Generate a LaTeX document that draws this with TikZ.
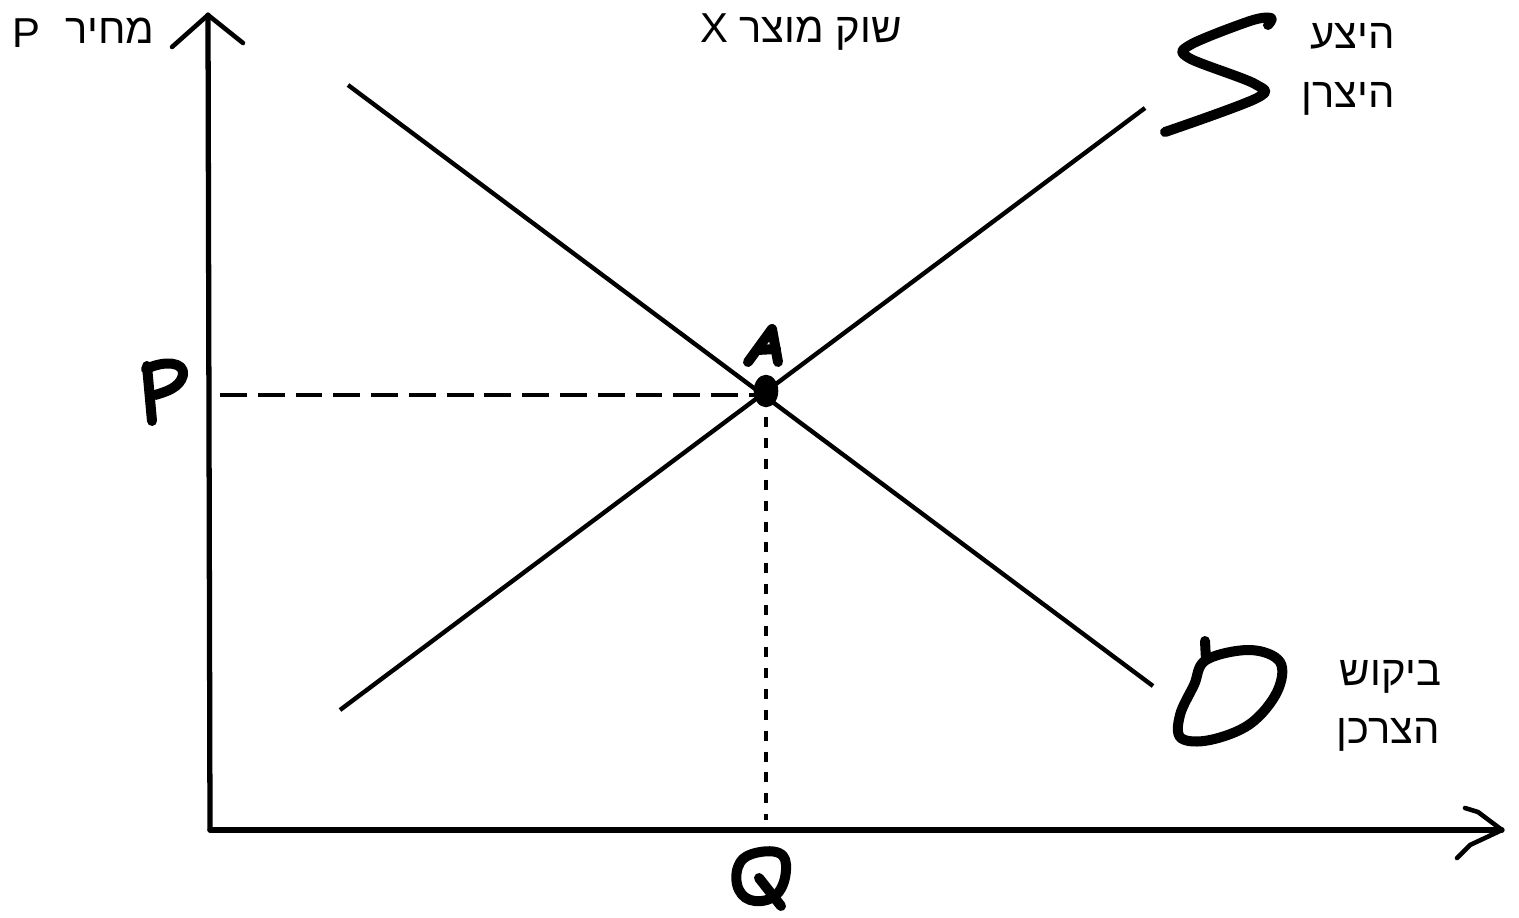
\documentclass[tikz,border=0pt]{standalone}
\usepackage{fontspec}
\usetikzlibrary{shapes.geometric}
\setmainfont{Liberation Sans}
\newfontfamily\heb[Script=Hebrew]{Liberation Sans}
\TeXXeTstate=1
\begin{document}
\begin{tikzpicture}[x=0.02cm,y=-0.02cm,
  axisline/.style={line width=3pt,line cap=round,line join=round},
  curveline/.style={line width=2.5pt},
  hand/.style={line width=5.7pt,line cap=round,line join=round},
  handthin/.style={line width=2.6pt,line cap=round,line join=round},
  lbl/.style={inner sep=0pt,font=\heb\fontsize{23.8}{28}\selectfont},
  guide/.style={line width=2.2pt}]
\useasboundingbox (0,0) rectangle (1519,917);
% coordinates
\coordinate (O) at (210,830);
\coordinate (Ytop) at (208,15);
\coordinate (Xend) at (1502,830);
\coordinate (D1) at (348,85);
\coordinate (D2) at (1153,686);
\coordinate (S1) at (340,710);
\coordinate (S2) at (1145,108);
\coordinate (Pleft) at (220,395);
\coordinate (Pright) at (755,395);
\coordinate (Qtop) at (766,417);
\coordinate (Qbot) at (766,820);
% axes
\draw[axisline] (O) -- (Ytop);
\draw[axisline] (O) -- (Xend);
\draw[handthin] (172,47) -- (Ytop) -- (243,43);
\draw[handthin] (1465,808) -- (1478,812) -- (Xend) -- (1470,845) -- (1457,858);
% curves
\draw[curveline] (D1) -- (D2);
\draw[curveline] (S1) -- (S2);
% guides
\draw[guide,dash pattern=on 15.3pt off 6.2pt] (Pleft) -- (Pright);
\draw[guide,line width=1.8pt,dash pattern=on 5.7pt off 6.2pt] (Qtop) -- (Qbot);
% equilibrium
\node[ellipse,fill=black,minimum width=14pt,minimum height=18.5pt,inner sep=0pt] (A) at (766,391) {};
% hand letters
\draw[hand] (748,362) -- (772,329) -- (778,362);
\draw[hand] (757,350) -- (776,349);
\draw[hand] (147,366) -- (152,421);
\draw[hand] (146,369) .. controls (165,360) and (185,362) .. (183,375) .. controls (180,388) and (165,392) .. (155,395);
\draw[hand] plot[smooth cycle,tension=0.7] coordinates {(752,854)(779,853)(786,870)(777,894)(755,901)(739,890)(738,867)};
\draw[hand] (759,878) -- (781,906);
\draw[hand] plot[smooth,tension=0.55] coordinates {(1268,25)(1271,18)(1250,21)(1190,45)(1189,58)(1255,84)(1257,98)(1165,132)};
\draw[hand] (1205,641) -- (1206,660);
\draw[hand] plot[smooth cycle,tension=0.6] coordinates {(1206,660)(1250,650)(1280,662)(1277,692)(1250,724)(1210,740)(1181,738)(1180,715)(1194,685)};
% texts
\node[lbl,anchor=base west] (pl) at (12,47) {P};
\node[lbl,anchor=base east] (price) at (155,43) {\beginR מחיר\endR};
\node[lbl,anchor=base] (title) at (801,42) {\beginR שוק מוצר X\endR};
\node[lbl,anchor=base east] (s1) at (1395,48) {\beginR היצע\endR};
\node[lbl,anchor=base east] (s2) at (1395,107) {\beginR היצרן\endR};
\node[lbl,anchor=base east] (d1) at (1442,685) {\beginR ביקוש\endR};
\node[lbl,anchor=base east] (d2) at (1440,743) {\beginR הצרכן\endR};
\end{tikzpicture}
\end{document}
